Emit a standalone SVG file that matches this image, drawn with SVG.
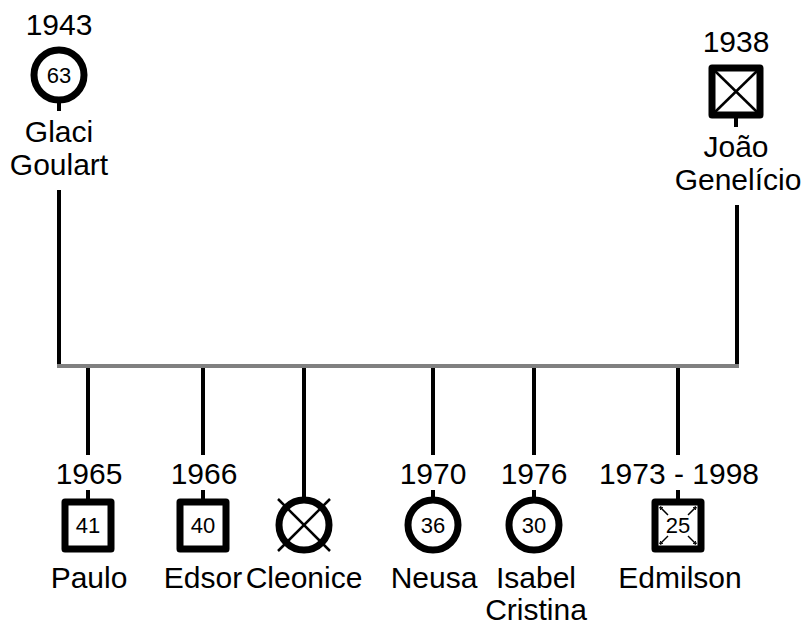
<svg xmlns="http://www.w3.org/2000/svg" width="803" height="627" viewBox="0 0 803 627">
<style>
text{font-family:"Liberation Sans",Arial,sans-serif;fill:#000;text-anchor:middle}
.lbl{font-size:30px}
.in{font-size:22px}
.sym{fill:#fff;stroke:#000;stroke-width:7;stroke-linejoin:round}
.ln{stroke:#000;stroke-width:4;fill:none}
.x{stroke:#000;stroke-width:2.5;fill:none}
.mk{stroke:#000;stroke-width:1.5;fill:none;marker-end:url(#ah)}
</style>
<defs>
<marker id="ah" viewBox="0 0 6 6" refX="5" refY="3" markerWidth="4" markerHeight="4" orient="auto" markerUnits="userSpaceOnUse">
<path d="M0,0 L6,3 L0,6" fill="none" stroke="#000" stroke-width="1.5"/>
</marker>
</defs>
<rect width="803" height="627" fill="#fff"/>
<g id="connectors">
<line class="ln" x1="59" y1="190" x2="59" y2="368"/>
<line class="ln" x1="737" y1="205" x2="737" y2="368"/>
<line x1="57" y1="366" x2="739" y2="366" stroke="#808080" stroke-width="4"/>
<line class="ln" x1="88" y1="368" x2="88" y2="455"/>
<line class="ln" x1="203" y1="368" x2="203" y2="455"/>
<line class="ln" x1="304" y1="368" x2="304" y2="497"/>
<line class="ln" x1="433" y1="368" x2="433" y2="455"/>
<line class="ln" x1="534" y1="368" x2="534" y2="455"/>
<line class="ln" x1="678" y1="368" x2="678" y2="455"/>
</g>
<g id="glaci">
<text class="lbl" x="59" y="35">1943</text>
<line class="ln" x1="59" y1="100" x2="59" y2="111"/>
<circle class="sym" cx="59" cy="75" r="25"/>
<text class="in" x="59" y="83">63</text>
<text class="lbl" x="59" y="142">Glaci</text>
<text class="lbl" x="59" y="175">Goulart</text>
</g>
<g id="joao">
<text class="lbl" x="736" y="52">1938</text>
<line class="ln" x1="736" y1="115" x2="736" y2="127"/>
<rect class="sym" x="712" y="68" width="48" height="47"/>
<line class="x" x1="715" y1="71" x2="757" y2="112"/>
<line class="x" x1="757" y1="71" x2="715" y2="112"/>
<text class="lbl" x="736" y="157">João</text>
<text class="lbl" x="738" y="190">Genelício</text>
</g>
<g id="paulo">
<text class="lbl" x="89" y="484">1965</text>
<line class="ln" x1="88" y1="490" x2="88" y2="502"/>
<rect class="sym" x="65" y="502" width="46" height="47"/>
<text class="in" x="88" y="533">41</text>
<text class="lbl" x="89" y="588">Paulo</text>
</g>
<g id="edsor">
<text class="lbl" x="204" y="484">1966</text>
<line class="ln" x1="203" y1="490" x2="203" y2="502"/>
<rect class="sym" x="180" y="502" width="46" height="47"/>
<text class="in" x="203" y="533">40</text>
<text class="lbl" x="203" y="588">Edsor</text>
</g>
<g id="cleonice">
<circle class="sym" cx="304" cy="525" r="25"/>
<line class="x" x1="278" y1="499" x2="330" y2="551"/>
<line class="x" x1="330" y1="499" x2="278" y2="551"/>
<text class="lbl" x="304" y="588">Cleonice</text>
</g>
<g id="neusa">
<text class="lbl" x="433" y="484">1970</text>
<line class="ln" x1="433" y1="490" x2="433" y2="500"/>
<circle class="sym" cx="433" cy="525" r="25"/>
<text class="in" x="433" y="533">36</text>
<text class="lbl" x="434" y="588">Neusa</text>
</g>
<g id="isabel">
<text class="lbl" x="534" y="484">1976</text>
<line class="ln" x1="534" y1="490" x2="534" y2="500"/>
<circle class="sym" cx="534" cy="525" r="25"/>
<text class="in" x="534" y="533">30</text>
<text class="lbl" x="536" y="588">Isabel</text>
<text class="lbl" x="536" y="620">Cristina</text>
</g>
<g id="edmilson">
<text class="lbl" x="679" y="484">1973 - 1998</text>
<line class="ln" x1="678" y1="490" x2="678" y2="502"/>
<rect class="sym" x="655" y="502" width="46" height="47"/>
<line class="mk" x1="668" y1="515" x2="660" y2="507"/>
<line class="mk" x1="688" y1="515" x2="696" y2="507"/>
<line class="mk" x1="668" y1="536" x2="660" y2="544"/>
<line class="mk" x1="688" y1="536" x2="696" y2="544"/>
<text class="in" x="678" y="533">25</text>
<text class="lbl" x="680" y="588">Edmilson</text>
</g>
</svg>
